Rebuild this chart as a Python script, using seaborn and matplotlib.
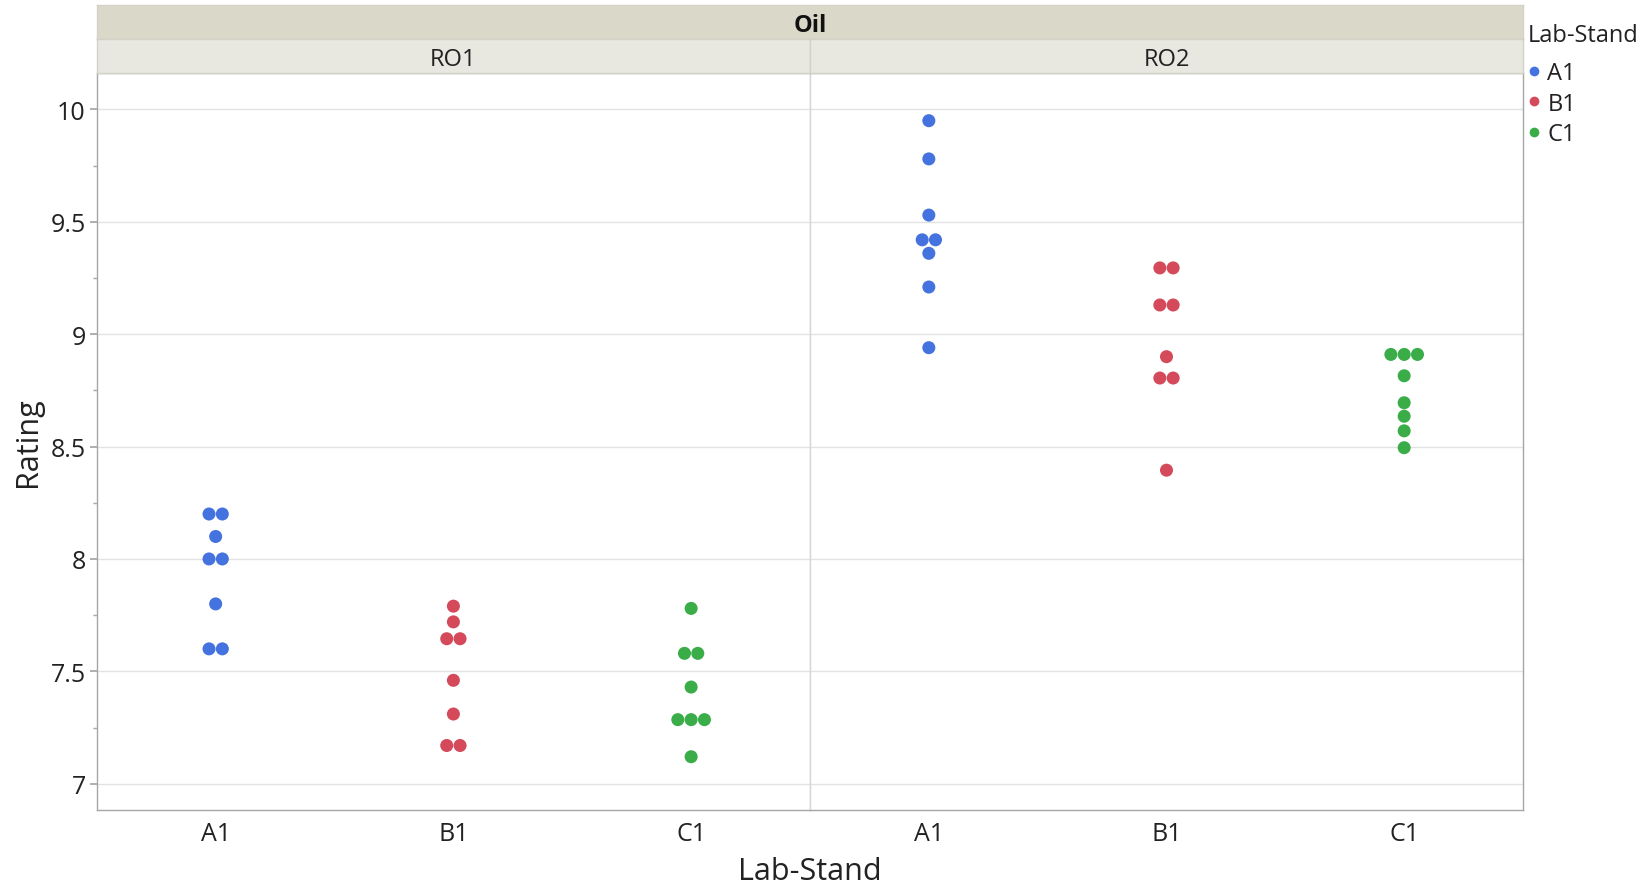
import numpy as np
import pandas as pd
import matplotlib
matplotlib.use("Agg")
import matplotlib.pyplot as plt
import seaborn as sns
from matplotlib.lines import Line2D
from matplotlib.ticker import MultipleLocator, FuncFormatter

# ---- data ----
categories = ["A1", "B1", "C1"]
panels = ["RO1", "RO2"]
ro1_a1 = [8.2, 8.2, 8.1, 8.0, 8.0, 7.8, 7.6, 7.6]
ro1_b1 = [7.79, 7.72, 7.645, 7.645, 7.46, 7.31, 7.17, 7.17]
ro1_c1 = [7.78, 7.58, 7.58, 7.43, 7.285, 7.285, 7.285, 7.12]
ro2_a1 = [9.95, 9.78, 9.53, 9.42, 9.42, 9.36, 9.21, 8.94]
ro2_b1 = [9.295, 9.295, 9.13, 9.13, 8.90, 8.805, 8.805, 8.395]
ro2_c1 = [8.91, 8.91, 8.91, 8.815, 8.695, 8.635, 8.57, 8.495]

colors = {"A1": "#4472DF", "B1": "#D44A5B", "C1": "#3AAD48"}

series = {("RO1", "A1"): ro1_a1, ("RO1", "B1"): ro1_b1, ("RO1", "C1"): ro1_c1,
          ("RO2", "A1"): ro2_a1, ("RO2", "B1"): ro2_b1, ("RO2", "C1"): ro2_c1}
rows = []
for (p, c), vals in series.items():
    for v in vals:
        rows.append({"panel": p, "cat": c, "val": v})
df = pd.DataFrame(rows)

# symmetric beeswarm offsets for tied values
spacing = 0.056
grp = df.groupby(["panel", "cat", "val"])
rank = grp.cumcount()
size = grp["val"].transform("size")
df["x"] = df["cat"].map({c: i for i, c in enumerate(categories)}) + (rank - (size - 1) / 2) * spacing

sns.set_theme(style="white")
plt.rcParams['font.family'] = ['Open Sans', 'DejaVu Sans']

W, H = 1649, 887
fig = plt.figure(figsize=(W / 100, H / 100), dpi=100)
L, R, M = 96.8 / W, 1523 / W, 810 / W
B, T = 1 - 811 / H, 1 - 73.6 / H
axes = [fig.add_axes([L, B, M - L, T - B]), fig.add_axes([M, B, R - M, T - B])]

outer = "#A6A6A6"
light = "#D6D6D6"
tick_fs = 18
for i, (ax, p) in enumerate(zip(axes, panels)):
    sub = df[df["panel"] == p]
    sns.scatterplot(data=sub, x="x", y="val", hue="cat", palette=colors, hue_order=categories,
                    s=88, linewidth=0, ax=ax, legend=False, zorder=3)
    ax.set_xlim(-0.5, 2.5)
    ax.set_ylim(6.883, 10.164)
    ax.set_xticks(range(len(categories)))
    ax.set_xticklabels(categories, fontsize=tick_fs, color="#222222")
    ax.set_xlabel("")
    ax.set_ylabel("")
    ax.yaxis.set_major_locator(MultipleLocator(0.5))
    ax.yaxis.set_minor_locator(MultipleLocator(0.25))
    ax.yaxis.grid(True, which="major", color="#E2E2E2", linewidth=1, zorder=0)
    ax.set_axisbelow(True)
    ax.tick_params(axis="x", length=0, pad=8)
    for s in ax.spines.values():
        s.set_color(outer)
        s.set_linewidth(1)
    if i == 0:
        ax.yaxis.set_major_formatter(FuncFormatter(lambda v, _: f"{v:g}"))
        ax.tick_params(axis="y", which="major", left=True, length=5, color=outer, labelsize=tick_fs,
                       labelcolor="#222222", pad=3)
        ax.tick_params(axis="y", which="minor", left=True, length=3, color=outer)
        ax.spines["right"].set_color(light)
    else:
        ax.tick_params(axis="y", which="both", left=False, labelleft=False)
        ax.spines["left"].set_color(light)

# strips
oil_ax = fig.add_axes([L, 1 - 40 / H, R - L, 33.7 / H])
oil_ax.set_facecolor("#DAD9C9")
oil_ax.text(0.5, 0.42, "Oil", ha="center", va="center", fontsize=17, fontweight="bold",
            color="#111111", transform=oil_ax.transAxes)
strip_axes = [oil_ax]
for i, p in enumerate(panels):
    left = L if i == 0 else M
    width = (M - L) if i == 0 else (R - M)
    sa = fig.add_axes([left, T, width, 33.6 / H])
    sa.set_facecolor("#E8E8E0")
    sa.text(0.5, 0.40, p, ha="center", va="center", fontsize=17, color="#222222",
            transform=sa.transAxes)
    strip_axes.append(sa)
for sa in strip_axes:
    sa.set_xticks([])
    sa.set_yticks([])
    for s in sa.spines.values():
        s.set_color("#D2D2C8")
        s.set_linewidth(1)

# axis labels
fig.text((L + R) / 2, 1 - 872 / H, "Lab-Stand", ha="center", va="center", fontsize=22, color="#222222")
fig.text(28 / W, 1 - 442 / H, "Rating", ha="center", va="center", rotation=90, fontsize=22, color="#222222")

# legend
fig.text(1528 / W, 1 - 35.5 / H, "Lab-Stand", ha="left", va="center", fontsize=17, color="#222222")
handles = [Line2D([0], [0], marker="o", linestyle="", markersize=7, markerfacecolor=colors[c],
                  markeredgewidth=0, label=c) for c in categories]
leg = fig.legend(handles=handles, loc="upper left",
                 bbox_to_anchor=(1525 / W, 1 - 62 / H), frameon=False, fontsize=17,
                 handletextpad=0.15, handlelength=0.8, borderaxespad=0,
                 borderpad=0, labelspacing=0.28)
for t in leg.get_texts():
    t.set_color("#222222")

fig.savefig("out.png", dpi=100)
